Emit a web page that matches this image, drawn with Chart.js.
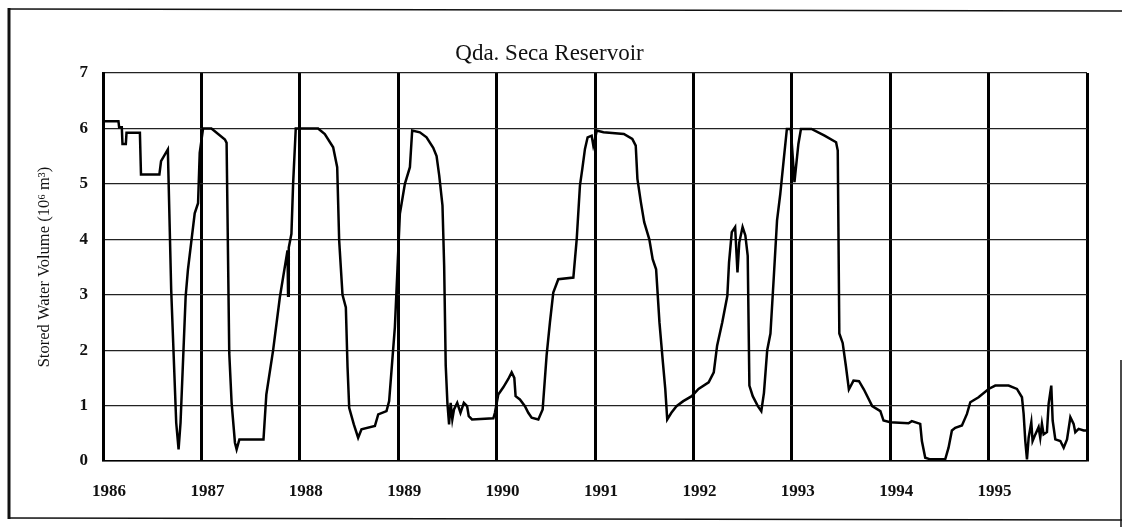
<!DOCTYPE html>
<html>
<head>
<meta charset="utf-8">
<title>Qda. Seca Reservoir</title>
<script src="https://cdn.jsdelivr.net/npm/chart.js@4.4.1/dist/chart.umd.min.js"></script>
<style>
  html, body { margin: 0; padding: 0; background: #fff; }
  #wrap { width: 1125px; height: 527px; }
</style>
</head>
<body>
<div id="wrap"><canvas id="reservoirChart" width="1125" height="527"></canvas></div>
<script>
// Decimal year of each reading
const dateYears = [
  1986.02, 1986.157, 1986.164, 1986.191, 1986.198, 1986.232, 1986.239, 1986.375, 1986.386, 1986.573,
  1986.59, 1986.659, 1986.693, 1986.744, 1986.768, 1986.788, 1986.84, 1986.863, 1986.932, 1986.966,
  1986.983, 1987.017, 1987.102, 1987.239, 1987.256, 1987.283, 1987.307, 1987.341, 1987.358, 1987.386,
  1987.631, 1987.66, 1987.729, 1987.797, 1987.875, 1987.881, 1987.888, 1987.915, 1987.932, 1987.959,
  1988.186, 1988.254, 1988.339, 1988.38, 1988.40, 1988.434, 1988.468, 1988.485, 1988.502, 1988.549,
  1988.593, 1988.627, 1988.763, 1988.797, 1988.881, 1988.908, 1988.966, 1988.993, 1989.017, 1989.068,
  1989.119, 1989.142, 1989.22, 1989.288, 1989.356, 1989.39, 1989.417, 1989.45, 1989.467, 1989.483,
  1989.5, 1989.517, 1989.533, 1989.55, 1989.567, 1989.6, 1989.633, 1989.667, 1989.7, 1989.717,
  1989.75, 1989.967, 1989.983, 1990.017, 1990.068, 1990.119, 1990.153, 1990.18, 1990.193, 1990.237,
  1990.288, 1990.322, 1990.356, 1990.424, 1990.468, 1990.508, 1990.542, 1990.576, 1990.627, 1990.78,
  1990.814, 1990.847, 1990.871, 1990.898, 1990.925, 1990.966, 1990.983, 1991.0, 1991.017, 1991.086,
  1991.293, 1991.379, 1991.414, 1991.431, 1991.466, 1991.5, 1991.552, 1991.586, 1991.621, 1991.655,
  1991.69, 1991.714, 1991.734, 1991.776, 1991.828, 1991.897, 1991.983, 1992.052, 1992.155, 1992.207,
  1992.241, 1992.293, 1992.345, 1992.362, 1992.39, 1992.424, 1992.448, 1992.466, 1992.5, 1992.528,
  1992.552, 1992.569, 1992.603, 1992.655, 1992.69, 1992.717, 1992.75, 1992.783, 1992.817, 1992.85,
  1992.883, 1992.917, 1992.95, 1992.99, 1993.027, 1993.067, 1993.093, 1993.2, 1993.333, 1993.45,
  1993.467, 1993.483, 1993.517, 1993.55, 1993.58, 1993.627, 1993.683, 1993.733, 1993.817, 1993.9,
  1993.932, 1994.0, 1994.186, 1994.22, 1994.305, 1994.322, 1994.356, 1994.407, 1994.559, 1994.593,
  1994.627, 1994.661, 1994.729, 1994.78, 1994.814, 1994.898, 1995.0, 1995.068, 1995.203, 1995.288,
  1995.339, 1995.356, 1995.373, 1995.39, 1995.407, 1995.434, 1995.447, 1995.475, 1995.508, 1995.525,
  1995.542, 1995.559, 1995.593, 1995.61, 1995.637, 1995.651, 1995.678, 1995.729, 1995.763, 1995.797,
  1995.831, 1995.864, 1995.881, 1995.915, 1995.966, 1996.0
];

// Stored volume, 10^6 m3
const storedVolume = [
  6.13, 6.13, 6.02, 6.02, 5.72, 5.72, 5.92, 5.92, 5.17, 5.17,
  5.41, 5.62, 3.09, 0.69, 0.21, 0.69, 2.97, 3.45, 4.47, 4.65,
  5.56, 6.0, 6.0, 5.8, 5.74, 1.95, 1.05, 0.33, 0.21, 0.39,
  0.39, 1.2, 2.0, 2.95, 3.8, 2.98, 3.85, 4.1, 5.0, 6.0,
  6.0, 5.9, 5.66, 5.3, 3.98, 3.0, 2.77, 1.7, 0.96, 0.66,
  0.42, 0.57, 0.63, 0.84, 0.9, 1.08, 2.41, 3.48, 4.46, 5.0,
  5.3, 5.96, 5.93, 5.84, 5.65, 5.5, 5.15, 4.61, 3.52, 1.72,
  1.05, 0.66, 1.05, 0.75, 0.93, 1.05, 0.87, 1.05, 0.99, 0.81,
  0.75, 0.77, 0.87, 1.2, 1.33, 1.48, 1.6, 1.5, 1.17, 1.11,
  0.99, 0.87, 0.78, 0.75, 0.93, 1.9, 2.5, 3.04, 3.28, 3.31,
  4.0, 4.97, 5.27, 5.63, 5.84, 5.87, 5.69, 5.8, 5.96, 5.93,
  5.9, 5.81, 5.69, 5.09, 4.67, 4.31, 4.0, 3.64, 3.46, 2.5,
  1.78, 1.3, 0.75, 0.87, 0.99, 1.08, 1.17, 1.3, 1.42, 1.6,
  2.08, 2.5, 2.98, 3.58, 4.13, 4.22, 3.4, 3.94, 4.22, 4.07,
  3.7, 1.36, 1.17, 0.99, 0.9, 1.23, 2.0, 2.3, 3.32, 4.34,
  4.82, 5.42, 5.99, 5.99, 5.03, 5.72, 5.99, 5.99, 5.87, 5.75,
  5.6, 2.3, 2.13, 1.71, 1.29, 1.45, 1.44, 1.29, 0.99, 0.9,
  0.73, 0.7, 0.68, 0.72, 0.67, 0.36, 0.06, 0.03, 0.03, 0.24,
  0.55, 0.6, 0.64, 0.85, 1.06, 1.15, 1.3, 1.36, 1.36, 1.3,
  1.15, 0.85, 0.36, 0.03, 0.42, 0.7, 0.36, 0.48, 0.61, 0.42,
  0.67, 0.48, 0.52, 1.03, 1.36, 0.73, 0.39, 0.36, 0.24, 0.39,
  0.79, 0.67, 0.52, 0.58, 0.55, 0.55
];

const yearLabels = ['1986', '1987', '1988', '1989', '1990', '1991', '1992', '1993', '1994', '1995'];
const volumeLabels = ['0', '1', '2', '3', '4', '5', '6', '7'];

const serif = "'Liberation Serif', 'Times New Roman', serif";

// outer box around the whole figure
const framePlugin = {
  id: 'pageFrame',
  afterDraw(chart) {
    const c = chart.ctx;
    c.save();
    c.strokeStyle = '#111';
    c.lineWidth = 3;
    c.beginPath();
    c.moveTo(9, 8);
    c.lineTo(9, 519);
    c.stroke();
    c.lineWidth = 1.5;
    c.beginPath();
    c.moveTo(9, 9);
    c.lineTo(1122, 11);
    c.moveTo(9, 518);
    c.lineTo(1122, 520);
    c.moveTo(1121, 360);
    c.lineTo(1121, 527);
    c.stroke();
    c.restore();
  }
};

const points = dateYears.map((yr, i) => ({ x: yr, y: storedVolume[i] }));

new Chart(document.getElementById('reservoirChart'), {
  type: 'line',
  data: {
    datasets: [{
      label: 'Stored Water Volume',
      data: points,
      borderColor: '#000',
      borderWidth: 2.5,
      pointRadius: 0,
      tension: 0,
      fill: false
    }]
  },
  options: {
    responsive: false,
    animation: false,
    layout: { padding: { left: 12, right: 38, top: 0, bottom: 0 } },
    plugins: {
      legend: { display: false },
      tooltip: { enabled: false },
      title: {
        display: true,
        text: 'Qda. Seca Reservoir',
        color: '#111',
        font: { family: serif, size: 23, weight: 'normal' },
        padding: { top: 40, bottom: 5.4 }
      }
    },
    scales: {
      x: {
        type: 'linear',
        min: 1986,
        max: 1996,
        afterBuildTicks: (scale) => {
          scale.ticks = [];
          for (let v = 1986; v <= 1996; v++) scale.ticks.push({ value: v });
        },
        afterFit: (scale) => { scale.height = 66; },
        grid: { color: '#000', lineWidth: 3, drawTicks: false },
        border: { color: '#000', width: 1.5 },
        ticks: {
          color: '#111',
          padding: 20,
          labelOffset: 6,
          maxRotation: 0,
          autoSkip: false,
          font: { family: serif, size: 17, weight: 'bold' },
          callback: (v, i) => yearLabels[i] ?? ''
        }
      },
      y: {
        min: 0,
        max: 7,
        afterFit: (scale) => { scale.width = 91; },
        grid: { color: '#222', lineWidth: 1.2, drawTicks: false },
        border: { color: '#000', width: 3 },
        ticks: {
          stepSize: 1,
          color: '#111',
          padding: 15,
          font: { family: serif, size: 17, weight: 'bold' },
          callback: (v, i) => volumeLabels[i] ?? ''
        },
        title: {
          display: true,
          text: 'Stored Water Volume (10⁶ m³)',
          color: '#111',
          font: { family: serif, size: 16.5, weight: 'normal' },
          padding: { top: 23, bottom: 0 }
        }
      }
    }
  },
  plugins: [framePlugin]
});
</script>
</body>
</html>
